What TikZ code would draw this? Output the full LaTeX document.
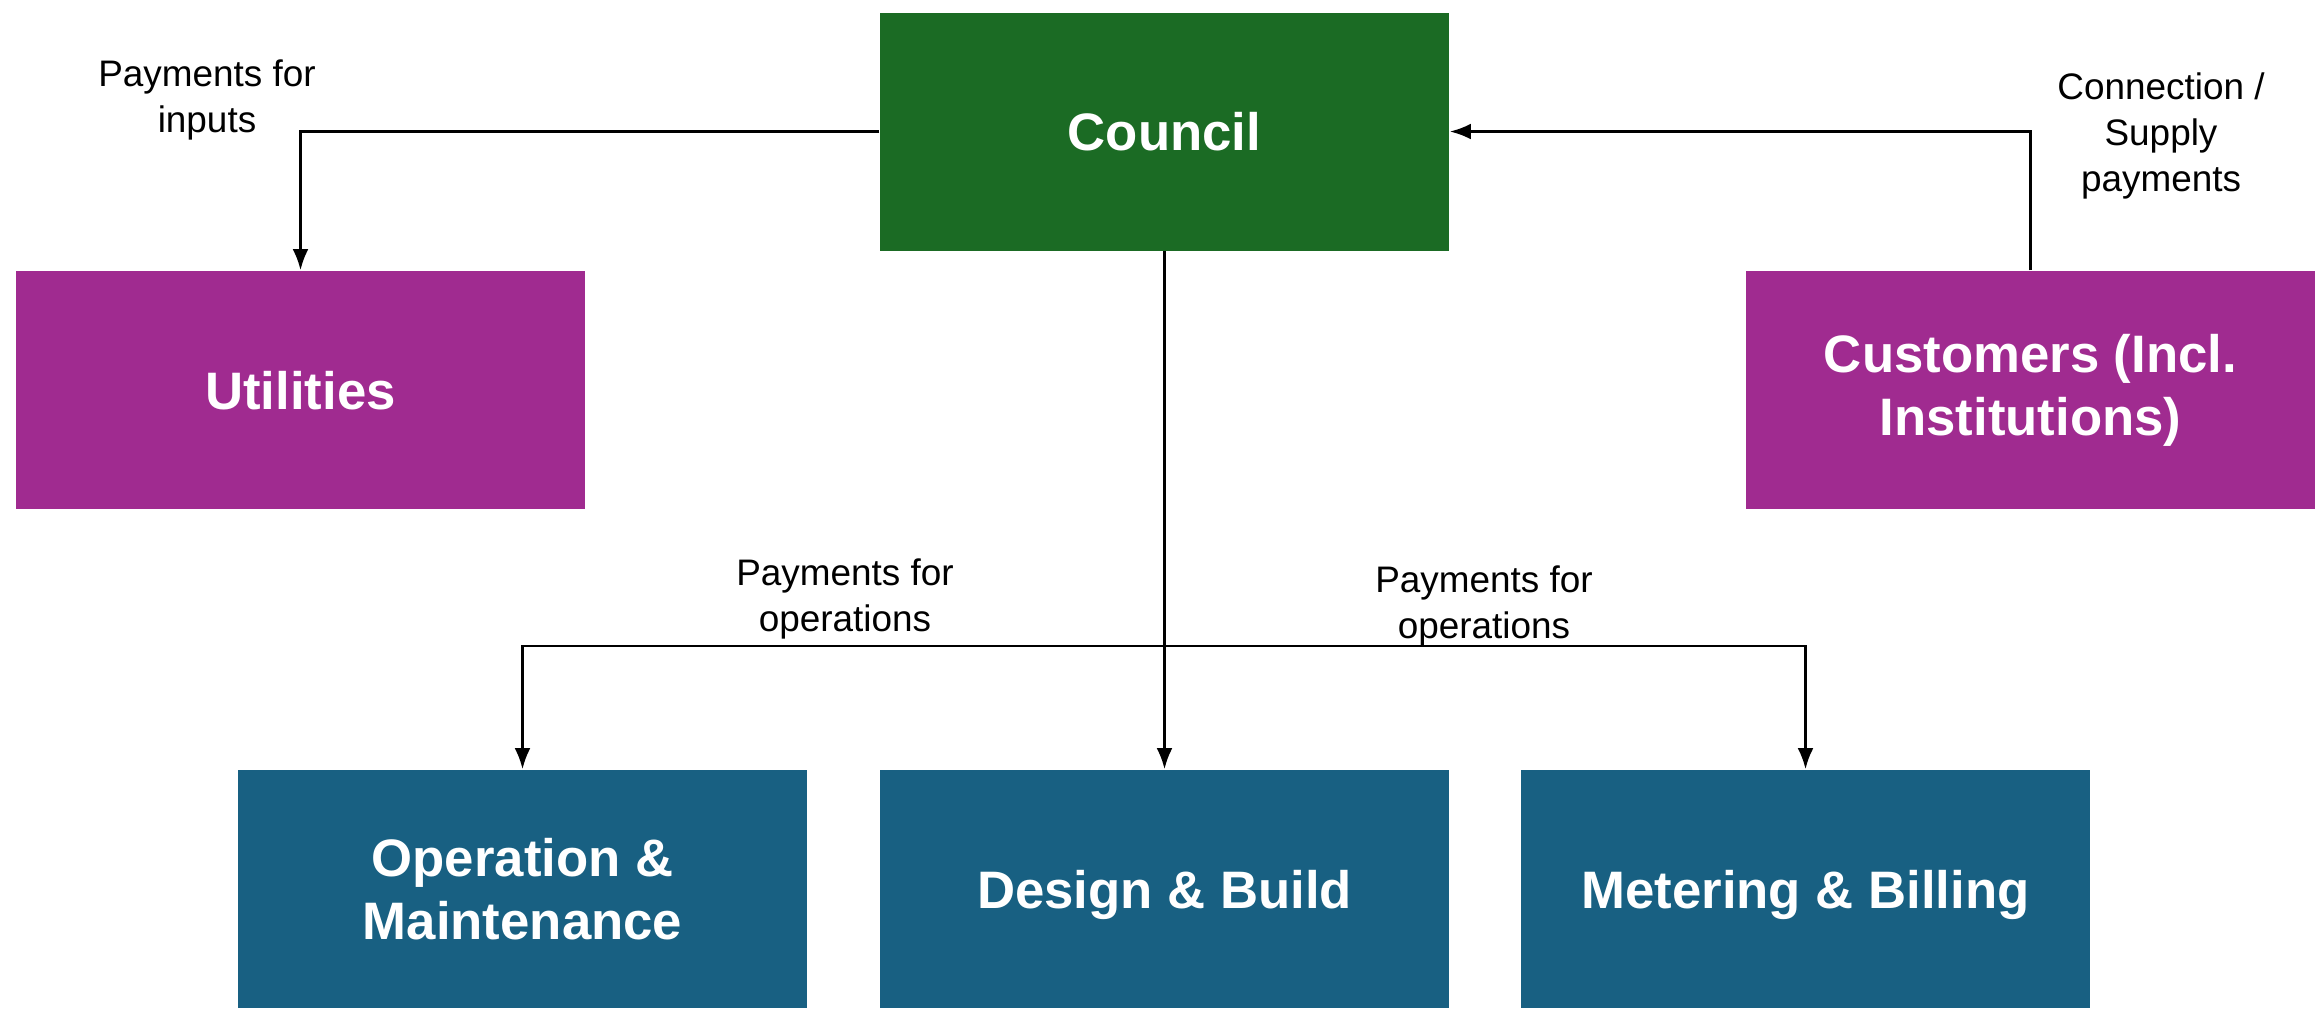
\documentclass[tikz,border=0pt]{standalone}
\usepackage{fontspec}
\setmainfont{Liberation Sans}
\usepackage{tikz}
\usetikzlibrary{arrows.meta}
\definecolor{councilgreen}{RGB}{27,107,36}
\definecolor{partypurple}{RGB}{160,43,144}
\definecolor{opsblue}{RGB}{24,96,130}

\begin{document}
\begin{tikzpicture}[box/.style={minimum width=5.69cm,minimum height=2.38cm,inner sep=0pt,align=center,text=white,font=\fontsize{15}{18}\selectfont\bfseries},
    flat/.style={text depth=0pt},
    lbl/.style={align=center,font=\fontsize{10.5}{13}\selectfont},
    pay/.style={line width=0.8pt,-{Latex[length=6pt,width=4.5pt]}}]
    \useasboundingbox (0,0) rectangle (23.18,-10.09);
    %boxes
    \node[box,flat,fill=councilgreen] (council) at (11.645,-1.315) {Council};
    \node[box,flat,fill=partypurple] (util) at (3.005,-3.9) {Utilities};
    \node[box,fill=partypurple] (cust) at (20.305,-3.9) {Customers (Incl.\\Institutions)};
    \node[box,fill=opsblue] (om) at (5.225,-8.89) {Operation \&\\Maintenance};
    \node[box,flat,fill=opsblue] (db) at (11.645,-8.89) {Design \& Build};
    \node[box,flat,fill=opsblue] (mb) at (18.055,-8.89) {Metering \& Billing};
    \coordinate (bus) at (11.645,-6.46);
    \draw[pay] (council.west) -| (util.north);
    \draw[pay] (cust.north) |- (council.east);
    \draw[pay] (council.south) -- (db.north);
    \draw[pay] (bus) -| (om.north);
    \draw[pay] (bus) -| (mb.north);
    \node[lbl] (inputs) at (2.07,-1.0) {Payments for\\inputs};
    \node[lbl] (supply) at (21.61,-1.36) {Connection /\\Supply\\payments};
    \node[lbl] (opsl) at (8.45,-5.99) {Payments for\\operations};
    \node[lbl] (opsr) at (14.84,-6.06) {Payments for\\operations};
\end{tikzpicture}
\end{document}
